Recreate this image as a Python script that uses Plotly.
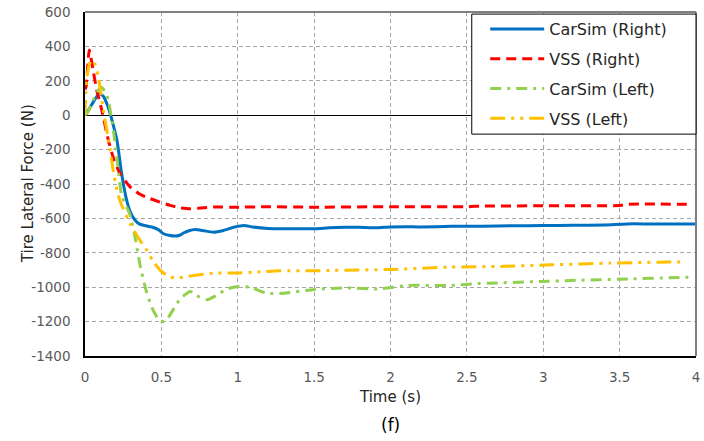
import plotly.graph_objects as go

# Tire lateral force time histories (N) for right and left tires
t_carsim_right = [0, 0.03, 0.06, 0.094, 0.12, 0.15, 0.18, 0.21, 0.24, 0.273, 0.30, 0.328, 0.355, 0.383,
                  0.437, 0.48, 0.514, 0.55, 0.59, 0.62, 0.645, 0.68, 0.72, 0.78, 0.84, 0.907, 0.98,
                  1.04, 1.10, 1.2, 1.28, 1.4, 1.5, 1.6, 1.7, 1.8, 1.9, 2.0, 2.1, 2.2, 2.4, 2.6, 2.8,
                  3.0, 3.2, 3.4, 3.55, 3.7, 4.0]
f_carsim_right = [0, 40, 85, 126, 110, 50, -40, -150, -340, -495, -570, -611, -632, -640,
                  -650, -665, -689, -698, -703, -698, -685, -672, -664, -672, -680, -670, -650,
                  -641, -650, -658, -660, -660, -660, -655, -652, -652, -655, -650, -648, -650, -646, -645, -643,
                  -642, -640, -638, -632, -632, -632]

t_vss_right = [0, 0.007, 0.028, 0.055, 0.077, 0.11, 0.153, 0.19, 0.23, 0.295, 0.36, 0.426, 0.49,
               0.557, 0.62, 0.689, 0.76, 0.84, 1.0, 1.19, 1.5, 2.0, 2.5, 2.6, 3.0, 3.5, 3.55, 3.97]
f_vss_right = [150, 165, 379, 252, 146, 29, -146, -260, -340, -417, -460, -485, -505,
               -524, -538, -544, -540, -534, -535, -532, -535, -532, -532, -528, -527, -525, -518, -518]

t_carsim_left = [0, 0.02, 0.06, 0.09, 0.109, 0.13, 0.153, 0.175, 0.186, 0.208, 0.24, 0.295, 0.33, 0.36,
                 0.40, 0.437, 0.487, 0.52, 0.546, 0.585, 0.623, 0.689, 0.73, 0.80, 0.86, 0.93, 0.995,
                 1.08, 1.19, 1.30, 1.5, 1.72, 1.92, 2.11, 2.39, 2.55, 2.98, 3.18, 3.6, 3.82, 3.95]
f_carsim_left = [0, 20, 100, 150, 161, 140, 87, -29, -87, -243, -466, -580, -720, -870,
                 -1019, -1116, -1194, -1200, -1175, -1120, -1068, -1025, -1048, -1073, -1048, -1010, -997,
                 -1000, -1035, -1035, -1013, -1004, -1010, -990, -990, -980, -967, -961, -951, -945, -942]

t_vss_left = [0, 0.01, 0.03, 0.055, 0.087, 0.12, 0.16, 0.186, 0.21, 0.23, 0.295, 0.36, 0.405, 0.44,
              0.49, 0.546, 0.60, 0.677, 0.84, 0.97, 1.115, 1.28, 1.5, 1.63, 2.0, 2.39, 2.72, 3.05,
              3.44, 3.82, 3.92]
f_vss_left = [0, 204, 300, 320, 223, 29, -175, -330, -440, -500, -631, -728, -786, -841,
              -899, -938, -947, -936, -918, -918, -912, -905, -905, -902, -897, -883, -879, -870,
              -860, -854, -854]

# Axis ticks
x_ticks = [0, 0.5, 1, 1.5, 2, 2.5, 3, 3.5, 4]
x_tick_labels = ["0", "0.5", "1", "1.5", "2", "2.5", "3", "3.5", "4"]
y_ticks = [600, 400, 200, 0, -200, -400, -600, -800, -1000, -1200, -1400]
y_tick_labels = ["600", "400", "200", "0", "-200", "-400", "-600", "-800", "-1000", "-1200", "-1400"]

series = [
    ("CarSim (Right)", t_carsim_right, f_carsim_right, "#0070C0", "solid"),
    ("VSS (Right)", t_vss_right, f_vss_right, "#FF0000", "10px,6px"),
    ("CarSim (Left)", t_carsim_left, f_carsim_left, "#92D050", "11px,6px,3px,6px"),
    ("VSS (Left)", t_vss_left, f_vss_left, "#FFC000", "15px,6px,3px,6px,3px,6px"),
]

FONT = "DejaVu Sans"
TICK_GRAY = "#595959"
TITLE_COLOR = "#262626"

fig = go.Figure()
for name, t, f, color, dash in series:
    fig.add_trace(go.Scatter(
        x=t, y=f, mode="lines", name=name, legendgroup=name,
        line=dict(color=color, width=3, dash=dash, shape="spline", smoothing=0.5),
    ))

fig.update_layout(
    width=704, height=441,
    margin=dict(l=85, r=8, t=12, b=85),
    paper_bgcolor="white", plot_bgcolor="white",
    font=dict(family=FONT, color=TICK_GRAY),
    showlegend=True,
    legend=dict(
        x=0.655, y=1.0, xanchor="left", yanchor="top",
        bgcolor="rgba(0,0,0,0)", borderwidth=0,
        font=dict(family=FONT, size=16, color=TITLE_COLOR),
        tracegroupgap=6, itemwidth=54,
    ),
    xaxis=dict(
        range=[0, 4], tickvals=x_ticks, ticktext=x_tick_labels, automargin=False,
        showgrid=True, gridcolor="#A6A6A6", gridwidth=1, griddash="4px,3px",
        zeroline=False,
        showline=True, linecolor="black", linewidth=1.5,
        ticks="", ticklabelstandoff=8,
        tickfont=dict(family=FONT, size=13.5, color=TICK_GRAY),
        title=dict(text="Time (s)", font=dict(family=FONT, size=15, color=TITLE_COLOR), standoff=8),
    ),
    yaxis=dict(
        range=[-1400, 600], tickvals=y_ticks, ticktext=y_tick_labels, automargin=False,
        showgrid=True, gridcolor="#A6A6A6", gridwidth=1, griddash="4px,3px",
        zeroline=True, zerolinecolor="black", zerolinewidth=1.2,
        showline=True, linecolor="black", linewidth=1.5,
        ticks="", ticklabelstandoff=10,
        tickfont=dict(family=FONT, size=13.5, color=TICK_GRAY),
    ),
    shapes=[
        # top and right frame of the plot area
        dict(type="line", xref="paper", yref="paper", x0=0, x1=1, y0=1, y1=1,
             line=dict(color="#808080", width=2)),
        dict(type="line", xref="paper", yref="paper", x0=1, x1=1, y0=0, y1=1,
             line=dict(color="#808080", width=2)),
        # legend box
        dict(type="rect", xref="paper", yref="paper", x0=0.633, x1=1.0, y0=0.645, y1=0.994,
             fillcolor="white", line=dict(color="black", width=1), layer="above"),
    ],
    annotations=[
        # y-axis title, placed close to the tick labels
        dict(text="Tire Lateral Force (N)", xref="paper", yref="paper", x=-0.093, y=0.5,
             xanchor="center", yanchor="middle", textangle=-90, showarrow=False,
             font=dict(family=FONT, size=15, color=TITLE_COLOR)),
        dict(text="(f)", xref="paper", yref="paper", x=0.5, y=-0.2, xanchor="center", yanchor="middle",
             showarrow=False, font=dict(family=FONT, size=17, color="black")),
    ],
)

fig.write_html("out.html")
